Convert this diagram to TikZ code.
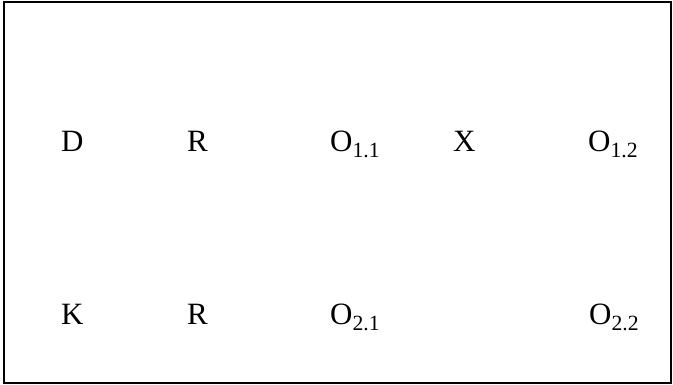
\documentclass[tikz,border=0pt]{standalone}
\usepackage{fontspec}
\setmainfont{Liberation Serif}
\usetikzlibrary{positioning}

\begin{document}
\begin{tikzpicture}[
    x=1pt, y=1pt,
    every node/.style={font=\fontsize{31}{36}\selectfont},
    sym/.style={inner sep=0pt, anchor=base west},
    frame/.style={draw, line width=1.8pt},
  ]
  \useasboundingbox (0,0) rectangle (673,385);

  % --- Frame ---
  \draw[frame] (4,2) rectangle (671,383);

  % --- Top row ---
  \node[sym] (d)   at (61,233)  {D};
  \node[sym] (r1)  at (187,233) {R};
  \node[sym] (o11) at (330,233) {O\textsubscript{1.1}};
  \node[sym] (x)   at (453,233) {X};
  \node[sym] (o12) at (588,233) {O\textsubscript{1.2}};

  % --- Bottom row ---
  \node[sym] (k)   at (61,60)  {K};
  \node[sym] (r2)  at (187,60) {R};
  \node[sym] (o21) at (330,60) {O\textsubscript{2.1}};
  \node[sym] (o22) at (589,60) {O\textsubscript{2.2}};
\end{tikzpicture}
\end{document}
